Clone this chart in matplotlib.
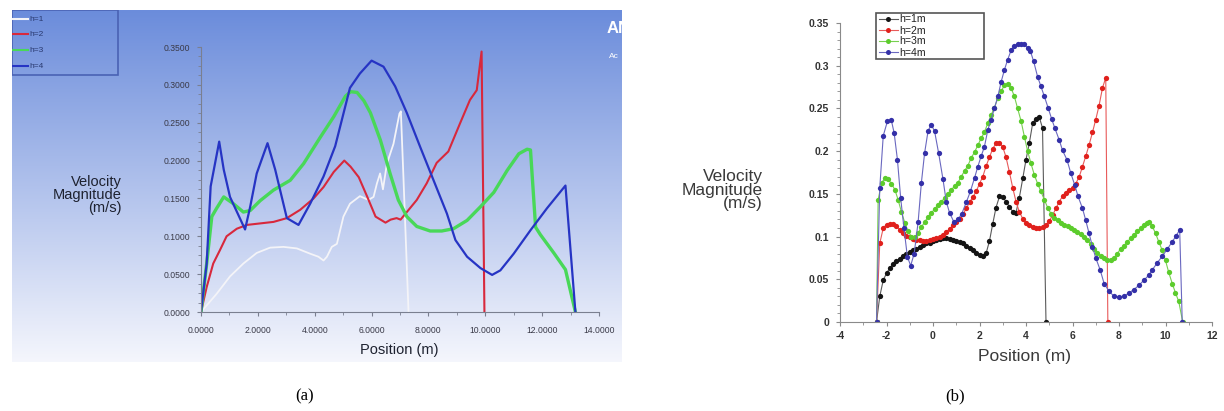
import matplotlib
matplotlib.use("Agg")
import matplotlib.pyplot as plt
import numpy as np
from matplotlib.patches import Rectangle
from matplotlib.ticker import MultipleLocator, FuncFormatter

W, H = 1224, 411

# (a) ANSYS lines: position (m), velocity (m/s)
a_x1 = [0, 0.55, 1.02, 1.49, 1.96, 2.43, 2.9, 3.37, 3.84, 4.13, 4.31, 4.43, 4.6, 4.78,
        5.01, 5.24, 5.59, 5.89, 6.07, 6.19, 6.3, 6.4, 6.54, 6.77, 6.98, 7.03, 7.12, 7.3]
a_y1 = [0, 0.024, 0.047, 0.064, 0.078, 0.085, 0.086, 0.084, 0.077, 0.073, 0.068, 0.073, 0.086, 0.09,
        0.126, 0.143, 0.153, 0.148, 0.152, 0.17, 0.183, 0.162, 0.196, 0.222, 0.262, 0.265, 0.179, 0]

a_x2 = [0, 0.2, 0.43, 0.67, 0.9, 1.26, 1.61, 2.08, 2.55, 3.02, 3.49, 3.96, 4.31, 4.67, 5.04, 5.26,
        5.55, 5.85, 6.14, 6.49, 6.67, 6.88, 7.02, 7.24, 7.59, 7.94, 8.29, 8.7, 9.11, 9.46, 9.7, 9.87, 9.97]
a_y2 = [0, 0.033, 0.064, 0.082, 0.1, 0.110, 0.115, 0.117, 0.119, 0.124, 0.135, 0.15, 0.165, 0.185, 0.2, 0.192,
        0.178, 0.152, 0.126, 0.118, 0.122, 0.124, 0.122, 0.132, 0.148, 0.17, 0.197, 0.212, 0.249, 0.28, 0.293, 0.344, 0]

a_x3 = [0, 0.2, 0.38, 0.55, 0.8, 1.14, 1.49, 1.73, 2.08, 2.55, 3.14, 3.61, 4.2, 4.67, 5.08, 5.26, 5.49,
        5.73, 5.96, 6.31, 6.65, 6.94, 7.24, 7.59, 8.06, 8.47, 8.88, 9.36, 9.83, 10.3, 10.77, 11.18, 11.47,
        11.59, 11.77, 11.94, 12.41, 12.82, 13.17]
a_y3 = [0, 0.064, 0.126, 0.137, 0.152, 0.143, 0.132, 0.134, 0.147, 0.161, 0.174, 0.196, 0.231, 0.258, 0.285, 0.291, 0.29,
        0.279, 0.263, 0.227, 0.183, 0.148, 0.126, 0.113, 0.107, 0.107, 0.11, 0.121, 0.139, 0.158, 0.187, 0.209, 0.215,
        0.214, 0.112, 0.102, 0.078, 0.056, 0]

a_x4 = [0, 0.2, 0.34, 0.64, 0.8, 1.02, 1.55, 1.73, 1.96, 2.34, 2.61, 3.02, 3.43, 3.84, 4.31, 4.72, 5.24,
        5.59, 6.0, 6.42, 6.83, 7.24, 7.71, 8.18, 8.65, 8.95, 9.36, 9.83, 10.24, 10.53, 11.0, 11.59, 12.17, 12.82, 13.17]
a_y4 = [0, 0.064, 0.166, 0.225, 0.188, 0.152, 0.109, 0.139, 0.183, 0.223, 0.188, 0.124, 0.115, 0.143, 0.179, 0.219, 0.296,
        0.315, 0.332, 0.324, 0.298, 0.263, 0.218, 0.174, 0.13, 0.095, 0.073, 0.058, 0.049, 0.055, 0.077, 0.108, 0.137, 0.167, 0]

a_labels = ["h=1", "h=2", "h=3", "h=4"]

# (b) measured/point data
b_x1 = [-2.43, -2.29, -2.14, -2.0, -1.86, -1.71, -1.57, -1.43, -1.29, -1.14, -1.0, -0.86, -0.71, -0.57,
        -0.43, -0.29, -0.14, 0.0, 0.14, 0.29, 0.43, 0.57, 0.71, 0.86, 1.0, 1.14, 1.29, 1.43, 1.57, 1.71,
        1.86, 2.0, 2.14, 2.29, 2.43, 2.57, 2.71, 2.86, 3.0, 3.14, 3.29, 3.43, 3.57, 3.71, 3.86, 4.0, 4.14,
        4.29, 4.43, 4.57, 4.71, 4.86]
b_y1 = [0, 0.030, 0.049, 0.057, 0.063, 0.068, 0.071, 0.074, 0.077, 0.080, 0.082, 0.084, 0.086, 0.088,
        0.090, 0.092, 0.093, 0.095, 0.096, 0.097, 0.098, 0.098, 0.097, 0.096, 0.095, 0.094, 0.092, 0.089, 0.087, 0.084,
        0.081, 0.079, 0.077, 0.081, 0.095, 0.115, 0.134, 0.147, 0.146, 0.141, 0.135, 0.129, 0.128, 0.145, 0.168, 0.190, 0.209,
        0.233, 0.238, 0.240, 0.227, 0]

b_x2 = [-2.43, -2.29, -2.14, -2.0, -1.86, -1.71, -1.57, -1.43, -1.29, -1.14, -1.0, -0.86, -0.71, -0.57,
        -0.43, -0.29, -0.14, 0.0, 0.14, 0.29, 0.43, 0.57, 0.71, 0.86, 1.0, 1.14, 1.29, 1.43, 1.57, 1.71,
        1.86, 2.0, 2.14, 2.29, 2.43, 2.57, 2.71, 2.86, 3.0, 3.14, 3.29, 3.43, 3.57, 3.71, 3.86, 4.0, 4.14,
        4.29, 4.43, 4.57, 4.71, 4.86, 5.0, 5.14, 5.29, 5.43, 5.57, 5.71, 5.86, 6.0, 6.14, 6.29, 6.43, 6.57,
        6.71, 6.86, 7.0, 7.14, 7.29, 7.43, 7.52]
b_y2 = [0, 0.092, 0.110, 0.114, 0.115, 0.115, 0.112, 0.108, 0.104, 0.101, 0.099, 0.097, 0.096, 0.096,
        0.095, 0.095, 0.096, 0.097, 0.098, 0.100, 0.102, 0.105, 0.109, 0.113, 0.117, 0.121, 0.126, 0.133, 0.140, 0.146,
        0.153, 0.162, 0.170, 0.183, 0.193, 0.203, 0.209, 0.210, 0.205, 0.193, 0.175, 0.157, 0.141, 0.129, 0.121, 0.116, 0.113,
        0.111, 0.110, 0.110, 0.111, 0.113, 0.118, 0.125, 0.133, 0.141, 0.147, 0.151, 0.154, 0.157, 0.162, 0.170, 0.182, 0.194,
        0.207, 0.222, 0.237, 0.253, 0.274, 0.286, 0]

b_x3 = [-2.43, -2.36, -2.21, -2.07, -1.93, -1.79, -1.64, -1.5, -1.36, -1.21, -1.07, -0.93, -0.79, -0.64,
        -0.5, -0.36, -0.21, -0.07, 0.07, 0.21, 0.36, 0.5, 0.64, 0.79, 0.93, 1.07, 1.21, 1.36, 1.5, 1.64,
        1.79, 1.93, 2.07, 2.21, 2.36, 2.5, 2.64, 2.79, 2.93, 3.07, 3.21, 3.36, 3.5, 3.64, 3.79, 3.93, 4.07,
        4.21, 4.36, 4.5, 4.64, 4.79, 4.93, 5.07, 5.21, 5.36, 5.5, 5.64, 5.79, 5.93, 6.07, 6.21, 6.36, 6.5,
        6.64, 6.79, 6.93, 7.07, 7.21, 7.36, 7.5, 7.64, 7.79, 7.93, 8.07, 8.21, 8.36, 8.5, 8.64, 8.79, 8.93,
        9.07, 9.21, 9.29, 9.43, 9.57, 9.71, 9.86, 10.0, 10.14, 10.29, 10.43, 10.57, 10.74]
b_y3 = [0, 0.143, 0.163, 0.168, 0.167, 0.162, 0.155, 0.143, 0.129, 0.116, 0.106, 0.100, 0.099, 0.104,
        0.111, 0.117, 0.123, 0.128, 0.132, 0.137, 0.141, 0.145, 0.150, 0.155, 0.159, 0.163, 0.170, 0.177, 0.183, 0.192,
        0.199, 0.207, 0.215, 0.222, 0.233, 0.242, 0.251, 0.262, 0.270, 0.277, 0.279, 0.274, 0.264, 0.250, 0.235, 0.217, 0.200,
        0.186, 0.172, 0.162, 0.153, 0.143, 0.134, 0.127, 0.122, 0.119, 0.116, 0.114, 0.112, 0.110, 0.108, 0.105, 0.103, 0.100,
        0.096, 0.091, 0.086, 0.081, 0.077, 0.075, 0.073, 0.073, 0.075, 0.080, 0.086, 0.089, 0.094, 0.098, 0.102, 0.106, 0.110,
        0.113, 0.116, 0.1175, 0.112, 0.104, 0.094, 0.084, 0.072, 0.058, 0.045, 0.034, 0.024, 0]

b_x4 = [-2.43, -2.29, -2.14, -1.96, -1.79, -1.67, -1.53, -1.39, -1.25, -1.1, -0.96, -0.81, -0.64, -0.5,
        -0.36, -0.21, -0.07, 0.07, 0.24, 0.43, 0.57, 0.71, 0.9, 1.07, 1.24, 1.43, 1.61, 1.79, 1.93, 2.07,
        2.21, 2.36, 2.5, 2.64, 2.79, 2.93, 3.07, 3.21, 3.36, 3.5, 3.64, 3.79, 3.93, 4.07, 4.19, 4.33, 4.5,
        4.64, 4.79, 4.96, 5.1, 5.24, 5.43, 5.57, 5.76, 5.93, 6.1, 6.24, 6.43, 6.57, 6.71, 6.86, 7.0, 7.19,
        7.36, 7.57, 7.79, 8.0, 8.21, 8.43, 8.64, 8.86, 9.07, 9.29, 9.43, 9.64, 9.86, 10.07, 10.29, 10.46,
        10.61, 10.72]
b_y4 = [0, 0.157, 0.218, 0.235, 0.236, 0.221, 0.190, 0.145, 0.110, 0.076, 0.066, 0.080, 0.117, 0.163,
        0.198, 0.224, 0.231, 0.223, 0.198, 0.167, 0.141, 0.128, 0.117, 0.120, 0.127, 0.140, 0.153, 0.169, 0.182, 0.194,
        0.205, 0.225, 0.237, 0.250, 0.264, 0.281, 0.295, 0.307, 0.318, 0.323, 0.325, 0.326, 0.325, 0.321, 0.317, 0.305, 0.287,
        0.276, 0.264, 0.250, 0.238, 0.227, 0.213, 0.201, 0.190, 0.174, 0.160, 0.147, 0.133, 0.119, 0.104, 0.088, 0.075, 0.061,
        0.045, 0.036, 0.030, 0.029, 0.030, 0.034, 0.038, 0.043, 0.049, 0.055, 0.061, 0.069, 0.077, 0.085, 0.094, 0.101,
        0.108, 0]

b_labels = ["h=1m", "h=2m", "h=3m", "h=4m"]

plt.rcParams['font.family'] = ['Liberation Sans', 'DejaVu Sans']
plt.rcParams['axes.unicode_minus'] = False

fig = plt.figure(figsize=(W / 100, H / 100), dpi=100)


def box(x0, y0, x1, y1):
    return [x0 / W, 1 - y1 / H, (x1 - x0) / W, (y1 - y0) / H]


# blue gradient panel behind (a)
bg = fig.add_axes(box(12, 10, 622, 362), zorder=-5)
top = np.array([0.42, 0.55, 0.86])
bot = np.array([0.96, 0.965, 0.99])
t = np.linspace(0, 1, 256)[:, None, None]
img = np.repeat(top + (bot - top) * t, 2, axis=1)
bg.imshow(img, aspect='auto', extent=(12, 622, 362, 10))
bg.set_xlim(12, 622)
bg.set_ylim(362, 10)
bg.axis('off')

bg.add_patch(Rectangle((12, 10), 106, 65, fc='none', ec='#4a62b4', lw=1.2))
a_cols = ['#f4f4f8', '#d8283c', '#48d858', '#2634c4']
for lab, col, yy in zip(a_labels, a_cols, [19, 34, 50, 66]):
    bg.plot([12, 28], [yy, yy], color=col, lw=1.5)
    bg.text(29, yy, lab, fontsize=6, color='#2a3a70', va='center')
bg.text(607, 28, 'AN', color='white', fontsize=12, fontweight='bold', va='center', clip_on=True)
bg.text(609, 56, 'Ac', color='white', fontsize=6, va='center', clip_on=True)

# (a)
axa = fig.add_axes(box(201, 47, 599, 312))
axa.patch.set_alpha(0)
axa.plot(a_x1, a_y1, color=a_cols[0], lw=1.3)
axa.plot(a_x2, a_y2, color=a_cols[1], lw=1.5)
axa.plot(a_x3, a_y3, color=a_cols[2], lw=2.4)
axa.plot(a_x4, a_y4, color=a_cols[3], lw=1.6)
axa.set_xlim(0, 14)
axa.set_ylim(0, 0.35)
axa.xaxis.set_major_locator(MultipleLocator(2))
axa.xaxis.set_minor_locator(MultipleLocator(1))
axa.yaxis.set_major_locator(MultipleLocator(0.05))
axa.yaxis.set_minor_locator(MultipleLocator(0.0125))
axa.xaxis.set_major_formatter(FuncFormatter(lambda v, p: '%.4f' % v))
axa.yaxis.set_major_formatter(FuncFormatter(lambda v, p: '%.4f' % v))
for s in ['top', 'right']:
    axa.spines[s].set_visible(False)
for s in ['left', 'bottom']:
    axa.spines[s].set_color('#7a7f90')
axa.tick_params(which='both', direction='out', colors='#7a7f90', labelcolor='#3a3a48', labelsize=6.2)
axa.tick_params(which='major', length=3)
axa.tick_params(which='minor', length=2)
axa.tick_params(axis='x', pad=7)
axa.tick_params(axis='y', pad=5)

fig.text(122 / W, 1 - 195 / H, 'Velocity\nMagnitude\n(m/s)', ha='right', va='center',
         fontsize=10.5, linespacing=0.95, color='#1e2230')
fig.text(399 / W, 1 - 350 / H, 'Position (m)', ha='center', va='center', fontsize=10.5, color='#1e2230')

# (b)
axb = fig.add_axes(box(840, 23, 1212, 322))
b_mc = ['#141414', '#e0201c', '#5ccc2c', '#3430a8']
b_lc = ['#5a5a5a', '#e85a5a', '#78d050', '#6a68c0']
for xs, ys, mc, lc in zip([b_x1, b_x2, b_x3, b_x4], [b_y1, b_y2, b_y3, b_y4], b_mc, b_lc):
    axb.plot(xs, ys, color=lc, lw=0.8)
    axb.plot(xs, ys, 'o', color=mc, ms=3.8, mew=0)
axb.set_xlim(-4, 12)
axb.set_ylim(0, 0.35)
axb.xaxis.set_major_locator(MultipleLocator(2))
axb.xaxis.set_minor_locator(MultipleLocator(1))
axb.yaxis.set_major_locator(MultipleLocator(0.05))
axb.yaxis.set_minor_locator(MultipleLocator(0.01))
axb.xaxis.set_major_formatter(FuncFormatter(lambda v, p: '%g' % v))
axb.yaxis.set_major_formatter(FuncFormatter(lambda v, p: '%g' % v))
for s in ['top', 'right']:
    axb.spines[s].set_visible(False)
for s in ['left', 'bottom']:
    axb.spines[s].set_color('#8a8a8a')
axb.tick_params(which='both', direction='out', colors='#8a8a8a', labelcolor='#333333', labelsize=7.5)
axb.tick_params(which='major', length=3)
axb.tick_params(which='minor', length=2)
axb.tick_params(axis='y', pad=5)
for lab in axb.get_xticklabels() + axb.get_yticklabels():
    lab.set_fontweight('bold')

fig.text(763 / W, 1 - 190 / H, 'Velocity\nMagnitude\n(m/s)', ha='right', va='center',
         fontsize=12.5, linespacing=0.85, color='#3a3a3a')
fig.text(1024 / W, 1 - 356 / H, 'Position (m)', ha='center', va='center', fontsize=12.5, color='#3a3a3a')

# overlay for legend (b) and captions
ov = fig.add_axes([0, 0, 1, 1], zorder=10)
ov.set_xlim(0, W)
ov.set_ylim(H, 0)
ov.axis('off')
ov.add_patch(Rectangle((876, 13), 108, 46, fc='white', ec='#555555', lw=1.2))
for lab, mc, lc, yy in zip(b_labels, b_mc, b_lc, [19.5, 30.5, 41.5, 52.5]):
    ov.plot([879, 898], [yy, yy], color=lc, lw=0.8)
    ov.plot([888], [yy], 'o', color=mc, ms=3.6, mew=0)
    ov.text(899, yy, lab, fontsize=7.6, color='#222222', va='center')

ov.text(305, 396, '(a)', fontsize=12, family='Liberation Serif', ha='center', va='center')
ov.text(955, 396, '(b)', fontsize=12, family='Liberation Serif', ha='center', va='center')

fig.savefig('out.png', dpi=100)
